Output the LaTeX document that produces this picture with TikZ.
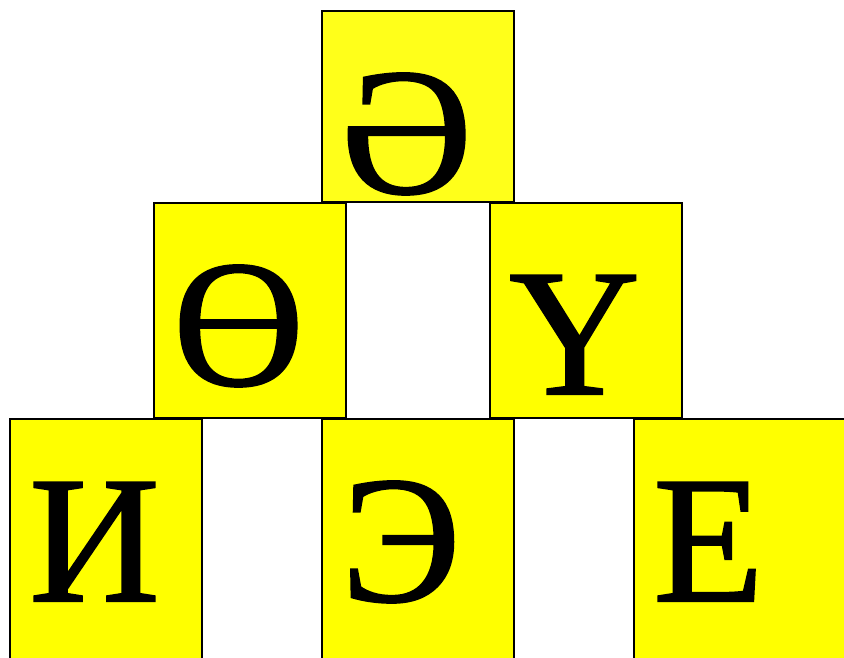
\documentclass[tikz,border=0pt]{standalone}
\usepackage{fontspec}
\setmainfont{Liberation Serif}
\newfontfamily\glyphfont[FakeBold=1.2]{Liberation Serif}
\usepackage{tikz}
\usetikzlibrary{positioning}

\definecolor{tileyellow}{RGB}{255,255,0}
\definecolor{topyellow}{RGB}{255,255,26}

\tikzset{
    tile/.style={draw=black, line width=1.5pt, fill=tileyellow, anchor=north west,
        minimum width=192pt, inner sep=0pt, outer sep=0pt},
    letter/.style={anchor=base west, inner sep=0pt,
        font=\fontsize{181}{181}\selectfont\glyphfont}
}

\begin{document}
\begin{tikzpicture}[x=1pt, y=-1pt]
    \useasboundingbox (0,0) rectangle (844,658);
    \clip (0,0) rectangle (844,658);

    % Top row
    \node[tile, minimum height=191pt, fill=topyellow] (tA) at (322,11) {};

    % Middle row
    \node[tile, minimum height=215pt] (mL) at (154,203) {};
    \node[tile, minimum height=215pt] (mR) at (490,203) {};

    % Bottom row (runs off the page)
    \node[tile, minimum height=260pt] (bL) at (10,419) {};
    \node[tile, minimum height=260pt] (bM) at (322,419) {};
    \node[tile, minimum height=260pt, minimum width=230pt] (bR) at (634,419) {};

    % Letters
    \node[letter] (lA) at ([shift={(19,182)}]tA.north west) {Ә};
    \node[letter] (lL) at ([shift={(19,182)}]mL.north west) {Ө};
    \node[letter] (lR) at ([shift={(19,191)}]mR.north west) {Ү};
    \node[letter] (lI) at ([shift={(19,182)}]bL.north west) {И};
    \node[letter] (lE) at ([shift={(19,182)}]bM.north west) {Э};
    \node[letter] (lF) at ([shift={(19,182)}]bR.north west) {Е};

\end{tikzpicture}
\end{document}
